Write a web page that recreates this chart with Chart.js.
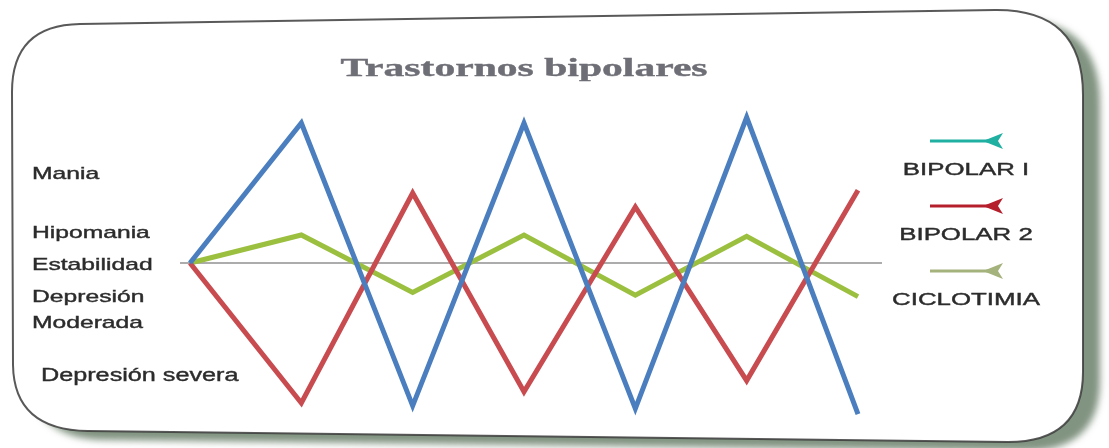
<!DOCTYPE html>
<html lang="es">
<head>
<meta charset="utf-8">
<title>Trastornos bipolares</title>
<script src="https://cdn.jsdelivr.net/npm/chart.js@4"></script>
<style>
  html, body { margin: 0; padding: 0; background: #fff; }
  #wrap { width: 1109px; height: 448px; position: relative; }
</style>
</head>
<body>
<div id="wrap"><canvas id="my-chart" width="1109" height="448"></canvas></div>
<script>
'use strict';

// ******* DATA *********
let phases = ['1', '2', '3', '4', '5', '6', '7'];
let seriesNames = ['BIPOLAR I', 'BIPOLAR 2', 'CICLOTIMIA'];
let bipolarOne = [0, 5.0, -5.1, 5.0, -5.2, 5.2, -5.4];
let bipolarTwo = [0, -5.0, 2.5, -4.6, 2.0, -4.2, 2.6];
let ciclotimia = [0, 1.0, -1.05, 1.0, -1.15, 0.95, -1.2];

// mood scale labels on the left and where they sit on the y scale
let moodLabels = ['Mania', 'Hipomania', 'Estabilidad', ['Depresión', 'Moderada'], 'Depresión severa'];
let moodValues = [3.15, 1.05, -0.07, -1.68, -4.05];
let stableValue = 0;

// ******* STYLES *********
let lineColors = ['#4a7ebf', '#c84b50', '#9bbf3f'];
let legendColors = ['#1fb0a2', '#b51f2c', '#a4b27c'];
let titleText = 'Trastornos bipolares';

let ctx = document.getElementById('my-chart');

// ****** HELPERS ******
// the picture is stretched sideways, so text gets a horizontal scale
function stretchText(c, text, x, y, sx, align) {
  c.save();
  c.translate(x, y);
  c.scale(sx, 1);
  c.textAlign = align || 'left';
  c.textBaseline = 'middle';
  c.fillText(text, 0, 0);
  c.lineWidth = 0.4;
  c.strokeStyle = c.fillStyle;
  c.strokeText(text, 0, 0);
  c.restore();
}

function cardPath(c) {
  c.beginPath();
  c.moveTo(80, 24);
  c.lineTo(995, 10);
  c.quadraticCurveTo(1083, 9, 1083, 95);
  c.lineTo(1083, 372);
  c.quadraticCurveTo(1083, 442, 1008, 442);
  c.lineTo(88, 431);
  c.quadraticCurveTo(14, 430, 13, 365);
  c.lineTo(12, 92);
  c.quadraticCurveTo(12, 25, 80, 24);
  c.closePath();
}

// ****** PLUGINS ******
let cardPlugin = {
  id: 'card',
  beforeDraw(chart) {
    let c = chart.ctx;
    c.save();
    // shadow under the card
    cardPath(c);
    c.shadowColor = 'rgba(115, 135, 115, 0.9)';
    c.shadowOffsetX = 17;
    c.shadowOffsetY = 9;
    c.shadowBlur = 7;
    c.fillStyle = '#ffffff';
    c.fill();
    c.shadowColor = 'transparent';
    c.lineWidth = 2;
    c.strokeStyle = 'rgba(60, 60, 60, 0.85)';
    cardPath(c);
    c.stroke();

    // title
    c.fillStyle = '#6e6e76';
    c.font = 'bold 26px "Liberation Serif", "DejaVu Serif", serif';
    stretchText(c, titleText, 524, 69, 1.6, 'center');

    // mood labels
    let y = chart.scales.y;
    c.fillStyle = '#2c2c2c';
    for (let i = 0; i < moodLabels.length; i++) {
      let py = y.getPixelForValue(moodValues[i]);
      let lbl = moodLabels[i];
      if (Array.isArray(lbl)) {
        c.font = '17px "Liberation Sans", Arial, sans-serif';
        stretchText(c, lbl[0], 32, py - 13, 1.45);
        stretchText(c, lbl[1], 32, py + 13, 1.45);
      } else if (i === moodLabels.length - 1) {
        c.font = '18px "Liberation Sans", Arial, sans-serif';
        stretchText(c, lbl, 41, py, 1.4);
      } else {
        c.font = '17px "Liberation Sans", Arial, sans-serif';
        stretchText(c, lbl, 32, py, 1.45);
      }
    }
    c.restore();
  },
  beforeDatasetsDraw(chart) {
    // stability baseline
    let c = chart.ctx;
    let area = chart.chartArea;
    let py = chart.scales.y.getPixelForValue(stableValue);
    c.save();
    c.strokeStyle = '#acacac';
    c.lineWidth = 2;
    c.beginPath();
    c.moveTo(area.left - 10, py);
    c.lineTo(area.right + 24, py);
    c.stroke();
    c.restore();
  },
  afterDraw(chart) {
    // legend: line with arrow head above each name
    let c = chart.ctx;
    let cx = 966;
    c.save();
    for (let i = 0; i < chart.data.datasets.length; i++) {
      let my = 141 + i * 65;
      let col = legendColors[i];
      c.strokeStyle = col;
      c.fillStyle = col;
      c.lineWidth = 3;
      c.beginPath();
      c.moveTo(cx - 36, my);
      c.lineTo(cx + 22, my);
      c.stroke();
      c.beginPath();
      c.moveTo(cx + 17, my);
      c.lineTo(cx + 37, my - 8);
      c.lineTo(cx + 32, my);
      c.lineTo(cx + 37, my + 8);
      c.closePath();
      c.fill();

      c.fillStyle = '#2c2c2c';
      c.font = '17px "Liberation Sans", Arial, sans-serif';
      stretchText(c, chart.data.datasets[i].label, cx, my + 29, 1.52, 'center');
    }
    c.restore();
  }
};

// ****** CHART ******
let seriesData = [bipolarOne, bipolarTwo, ciclotimia];
let datasets = [];
for (let i = 0; i < seriesNames.length; i++) {
  datasets.push({
    label: seriesNames[i],
    data: seriesData[i],
    borderColor: lineColors[i],
    backgroundColor: lineColors[i],
    borderWidth: 5,
    pointRadius: 0,
    tension: 0,
    clip: false
  });
}

let chartObj = {
  type: 'line',
  data: {
    labels: phases,
    datasets: datasets
  },
  options: {
    responsive: false,
    animation: false,
    layout: {
      padding: { left: 190, right: 251, top: 109, bottom: 31 }
    },
    plugins: {
      legend: { display: false },
      title: { display: false },
      tooltip: { enabled: false }
    },
    scales: {
      x: { display: false, offset: false },
      y: { display: false, min: -5.5, max: 5.5 }
    }
  },
  plugins: [cardPlugin]
};

new Chart(ctx, chartObj); //eslint-disable-line
</script>
</body>
</html>
